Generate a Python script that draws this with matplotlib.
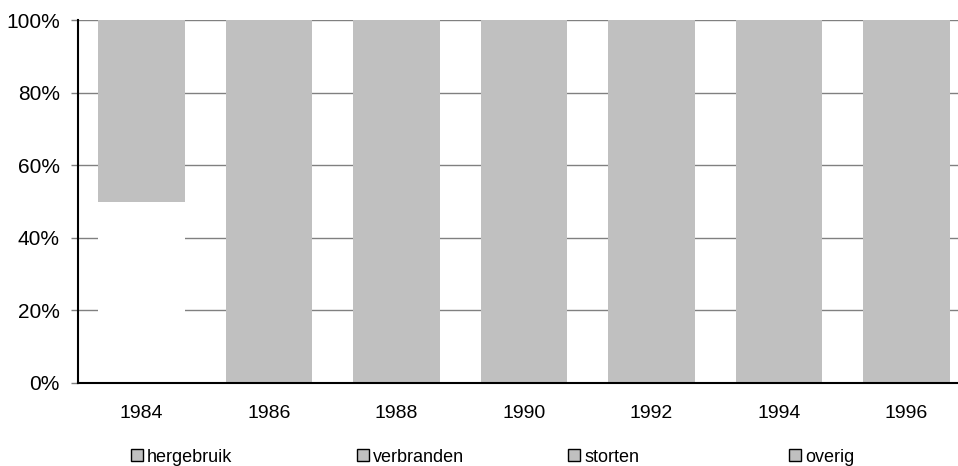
import matplotlib
matplotlib.use("Agg")
import matplotlib.pyplot as plt
from matplotlib.patches import Patch
import numpy as np

plt.rcParams["font.family"] = ["Liberation Sans", "DejaVu Sans"]

years = ["1984", "1986", "1988", "1990", "1992", "1994", "1996"]
series = ["hergebruik", "verbranden", "storten", "overig"]
hergebruik = [50, 0, 0, 0, 0, 0, 0]
verbranden = [0, 0, 0, 0, 0, 0, 0]
storten = [0, 0, 0, 0, 0, 0, 0]
overig = [50, 100, 100, 100, 100, 100, 100]
fills = ["white", "#c0c0c0", "#c0c0c0", "#c0c0c0"]
legend_x = [131, 357, 568, 789]  # pixel position of each legend entry

fig = plt.figure(figsize=(9.58, 4.66), dpi=100)
ax = fig.add_axes([78 / 958, 1 - 383 / 466, 892 / 958, 363 / 466])

x = np.arange(len(years))
bottom = np.zeros(len(years))
for vals, col in zip([hergebruik, verbranden, storten, overig], fills):
    ax.bar(x, vals, bottom=bottom, width=0.68, color=col, zorder=2)
    bottom += np.array(vals)

ax.set_xlim(-0.5, len(years) - 0.5)
ax.set_ylim(0, 100)
ax.set_yticks(range(0, 101, 20))
ax.set_yticklabels([f"{v}%" for v in range(0, 101, 20)], fontsize=15)
ax.set_xticks(x)
ax.set_xticklabels(years, fontsize=14)
ax.tick_params(axis="x", length=0, pad=16)
ax.tick_params(axis="y", length=5, width=1, color="#808080", pad=8)
ax.yaxis.grid(True, color="#808080", linewidth=1, zorder=0)
ax.set_axisbelow(True)
for s in ["top", "right"]:
    ax.spines[s].set_visible(False)
ax.spines["left"].set_linewidth(1.5)
ax.spines["bottom"].set_linewidth(1.5)
ax.spines["bottom"].set_zorder(3)

for name, px in zip(series, legend_x):
    h = Patch(facecolor="#c0c0c0", edgecolor="black", linewidth=1)
    fig.legend([h], [name], loc="center left", bbox_to_anchor=(px / 958, 1 - 457 / 466),
               frameon=False, fontsize=13, handlelength=0.65, handleheight=0.65,
               handletextpad=0.25, borderaxespad=0, borderpad=0)

fig.savefig("out.png", dpi=100)
